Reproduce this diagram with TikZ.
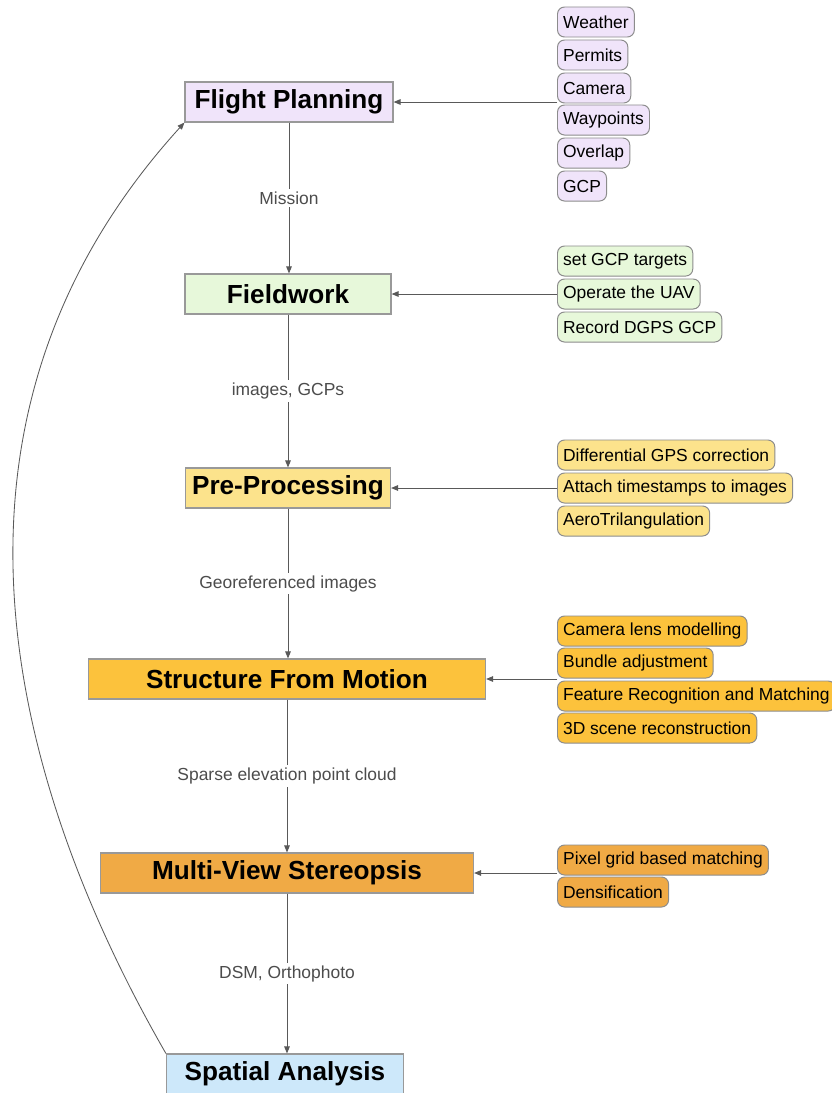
\documentclass[tikz,border=0pt]{standalone}
\usepackage{fontspec}
\setmainfont{Liberation Sans}
\usepackage{tikz}
\usetikzlibrary{positioning}
\usetikzlibrary{shapes,calc,arrows.meta}

\definecolor{planfill}{HTML}{F0E4FA}
\definecolor{fieldfill}{HTML}{E7F8DA}
\definecolor{prefill}{HTML}{FCE38C}
\definecolor{sfmfill}{HTML}{FCC23C}
\definecolor{mvsfill}{HTML}{F0AA45}
\definecolor{safill}{HTML}{CDE8FA}

\begin{document}
\begin{tikzpicture}[x=0.025cm,y=-0.025cm,
  flow/.style={-{Triangle[length=5pt,width=4pt]},line width=.7pt,draw=black!65,fill=black!65},
  main node/.style={rectangle,draw=black!40,line width=.8pt,minimum height=1cm,font=\fontsize{18.6}{22}\selectfont\bfseries},
  item node/.style={rectangle,rounded corners=5pt,draw=black!45,line width=.7pt,minimum height=.75cm,inner xsep=4pt,anchor=west,font=\fontsize{12.4}{14}\selectfont},
  edge label/.style={fill=white,text=black!70,font=\fontsize{12.4}{14}\selectfont,inner sep=2pt}]
\useasboundingbox (0,0) rectangle (831,1093);
% main steps
\node[main node,fill=planfill,minimum width=5.2cm] at (289,102) (FP) {Flight Planning};
\node[main node,fill=fieldfill,minimum width=5.15cm] at (288,294) (FW) {Fieldwork};
\node[main node,fill=prefill,minimum width=5.125cm] at (288,488) (PP) {Pre-Processing};
\node[main node,fill=sfmfill,minimum width=9.925cm] at (287,679) (SfM) {Structure From Motion};
\node[main node,fill=mvsfill,minimum width=9.325cm] at (287,873) (MVS) {Multi-View Stereopsis};
\node[main node,fill=safill,minimum width=5.925cm] at (285,1074) (SA) {Spatial Analysis};
% inputs
\node[item node,fill=planfill] at (557,22) (weather) {Weather};
\node[item node,fill=planfill] at (557,55) (permits) {Permits};
\node[item node,fill=planfill] at (557,88) (camera) {Camera};
\node[item node,fill=planfill] at (557,120) (waypoints) {Waypoints};
\node[item node,fill=planfill] at (557,153) (overlap) {Overlap};
\node[item node,fill=planfill] at (557,186) (gcp) {GCP};
\node[item node,fill=fieldfill] at (557,261) (targets) {set GCP targets};
\node[item node,fill=fieldfill] at (557,294) (operate) {Operate the UAV};
\node[item node,fill=fieldfill] at (557,327) (dgps) {Record DGPS GCP};
\node[item node,fill=prefill] at (557,455) (diffgps) {Differential GPS correction};
\node[item node,fill=prefill] at (557,488) (stamps) {Attach timestamps to images};
\node[item node,fill=prefill] at (557,521) (aerotri) {AeroTrilangulation};
\node[item node,fill=sfmfill] at (557,631) (lens) {Camera lens modelling};
\node[item node,fill=sfmfill] at (557,663) (bundle) {Bundle adjustment};
\node[item node,fill=sfmfill] at (557,696) (feature) {Feature Recognition and Matching};
\node[item node,fill=sfmfill] at (557,728) (scene) {3D scene reconstruction};
\node[item node,fill=mvsfill] at (557,860) (pixel) {Pixel grid based matching};
\node[item node,fill=mvsfill] at (557,892) (dense) {Densification};
% workflow
\draw[flow] (FP.south) -- node[edge label] (mission) {Mission} (FP.south |- FW.north);
\draw[flow] (FW.south) -- node[edge label] (images) {images, GCPs} (FW.south |- PP.north);
\draw[flow] (PP.south) -- node[edge label] (georef) {Georeferenced images} (PP.south |- SfM.north);
\draw[flow] (SfM.south) -- node[edge label] (sparse) {Sparse elevation point cloud} (SfM.south |- MVS.north);
\draw[flow] (MVS.south) -- node[edge label] (dsm) {DSM, Orthophoto} (MVS.south |- SA.north);
\draw[flow] (weather.west |- FP.east) -- (FP.east);
\draw[flow] (operate.west) -- (FW.east);
\draw[flow] (stamps.west) -- (PP.east);
\draw[flow] (lens.west |- SfM.east) -- (SfM.east);
\draw[flow] (pixel.west |- MVS.east) -- (MVS.east);
\draw[flow,fill=none,line width=.6pt] (SA.north west) .. controls (20,800) and (-95,430) .. (FP.south west);
\end{tikzpicture}
\end{document}
